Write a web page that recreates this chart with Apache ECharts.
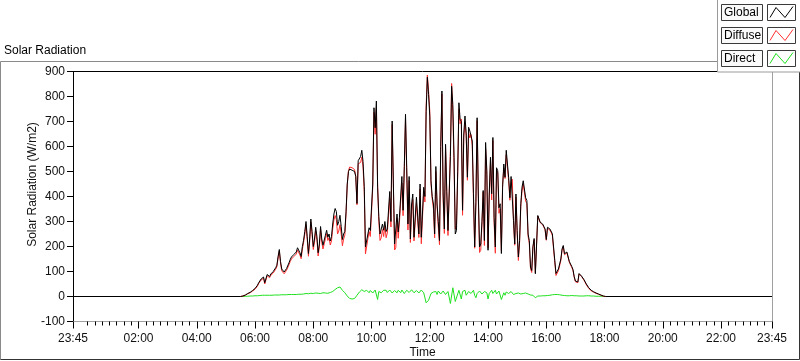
<!DOCTYPE html>
<html>
<head>
<meta charset="utf-8">
<script src="https://cdn.jsdelivr.net/npm/echarts@6/dist/echarts.min.js"></script>
<style>
  html, body { margin: 0; padding: 0; background: #fff; }
  #chart { width: 800px; height: 361px; }
</style>
</head>
<body>
<div id="chart"></div>
<script>
// time axis in minutes from midnight, 23:45 -> 23:45 next day
const axisMin = -15
const axisMax = 1425
const dayStart = 330   // 05:30, first daytime sample
const stepMin = 2.5

const majorTicks = [-15, 120, 240, 360, 480, 600, 720, 840, 960, 1080, 1200, 1320, 1425]
const yTicksMin = -100
const yTicksMax = 900

// W/m2, one value every 2.5 minutes from 05:30 to 18:05, rows of half an hour
const globalRad = [
  0, 1, 2, 4, 6, 9, 12, 14, 17, 20, 24, 28,
  32, 38, 45, 55, 62, 70, 75, 78, 55, 62, 88, 92,
  80, 90, 97, 100, 108, 115, 125, 160, 188, 140, 110, 104,
  98, 105, 112, 120, 135, 148, 158, 150, 168, 172, 178, 195,
  190, 175, 160, 200, 225, 260, 300, 240, 172, 230, 310, 260,
  200, 230, 277, 240, 175, 210, 280, 230, 205, 198, 245, 265,
  237, 250, 222, 240, 290, 330, 352, 340, 285, 300, 325, 280,
  228, 250, 260, 340, 450, 500, 510, 505, 505, 500, 500, 480,
  372, 543, 545, 560, 585, 540, 440, 198, 200, 250, 275, 264,
  260, 450, 755, 675, 782, 437, 320, 250, 250, 290, 265, 300,
  260, 270, 275, 420, 300, 702, 450, 210, 215, 330, 258, 317,
  318, 480, 345, 520, 729, 515, 290, 480, 230, 370, 410, 237,
  237, 397, 400, 250, 450, 237, 237, 437, 400, 740, 877, 808,
  721, 463, 400, 370, 250, 520, 370, 300, 224, 600, 822, 410,
  270, 609, 420, 264, 270, 560, 841, 768, 557, 250, 264, 500,
  775, 709, 700, 345, 650, 722, 650, 477, 677, 662, 660, 622,
  411, 198, 375, 715, 410, 198, 210, 300, 424, 224, 616, 503,
  185, 410, 557, 411, 636, 317, 198, 515, 503, 355, 371, 172,
  437, 530, 477, 585, 583, 475, 395, 480, 484, 304, 210, 410,
  264, 158, 224, 371, 437, 463, 456, 395, 384, 250, 224, 118,
  104, 200, 232, 91, 91, 324, 326, 297, 295, 290, 285, 270,
  228, 277, 275, 270, 262, 251, 250, 145, 92, 98, 110, 130,
  150, 190, 204, 171, 172, 178, 178, 140, 140, 120, 108, 80,
  62, 55, 58, 92, 90, 82, 78, 68, 60, 50, 42, 35,
  30, 25, 22, 19, 16, 14, 12, 10, 8, 6, 4, 2,
  1, 0, 0
]
const diffuseRad = [
  0, 1, 2, 4, 5, 8, 11, 13, 15, 18, 22, 26,
  29, 35, 42, 52, 58, 66, 70, 73, 50, 57, 83, 87,
  75, 85, 92, 94, 102, 109, 119, 154, 182, 134, 103, 97,
  91, 98, 105, 113, 127, 140, 150, 142, 160, 164, 170, 186,
  181, 166, 151, 190, 215, 249, 288, 228, 161, 219, 297, 248,
  188, 217, 263, 226, 162, 198, 268, 217, 190, 182, 231, 252,
  224, 235, 206, 222, 270, 306, 324, 308, 250, 262, 287, 250,
  203, 230, 245, 332, 448, 504, 518, 515, 515, 509, 508, 482,
  367, 531, 527, 536, 558, 518, 420, 170, 175, 232, 260, 240,
  238, 436, 737, 649, 754, 449, 300, 224, 235, 268, 240, 283,
  235, 254, 257, 394, 278, 688, 438, 186, 195, 315, 233, 298,
  303, 454, 323, 508, 711, 490, 266, 464, 216, 343, 388, 222,
  220, 373, 375, 236, 430, 211, 219, 422, 378, 762, 886, 823,
  741, 451, 390, 352, 235, 500, 362, 278, 207, 590, 810, 388,
  252, 601, 415, 244, 250, 588, 852, 733, 522, 270, 284, 490,
  750, 691, 710, 325, 635, 697, 645, 465, 657, 634, 648, 604,
  386, 193, 380, 703, 392, 176, 185, 290, 419, 204, 591, 488,
  195, 398, 537, 386, 624, 297, 173, 505, 495, 333, 351, 184,
  449, 515, 472, 567, 568, 463, 385, 460, 469, 296, 205, 398,
  252, 144, 216, 361, 422, 451, 451, 381, 372, 240, 214, 112,
  96, 195, 227, 96, 96, 322, 326, 295, 293, 287, 282, 267,
  225, 273, 271, 265, 256, 244, 242, 137, 84, 90, 103, 123,
  144, 185, 200, 167, 169, 175, 175, 137, 137, 116, 104, 77,
  59, 52, 55, 90, 88, 80, 76, 66, 58, 47, 39, 32,
  28, 23, 20, 17, 14, 13, 11, 9, 7, 5, 3, 1,
  1, 0, 0
]
const directRad = [
  0, 0, 0, 0, 1, 1, 1, 1, 2, 2, 2, 2,
  3, 3, 3, 3, 4, 4, 5, 5, 5, 5, 5, 5,
  5, 5, 5, 6, 6, 6, 6, 6, 6, 6, 7, 7,
  7, 7, 7, 7, 8, 8, 8, 8, 8, 8, 8, 9,
  9, 9, 9, 10, 10, 11, 12, 12, 11, 11, 13, 12,
  12, 13, 14, 14, 13, 12, 12, 13, 15, 16, 14, 13,
  13, 15, 16, 18, 20, 24, 28, 32, 35, 38, 38, 30,
  25, 20, 15, 8, 2, -4, -8, -10, -10, -9, -8, -2,
  5, 12, 18, 24, 27, 22, 20, 28, 25, 18, 15, 24,
  22, 14, 18, 26, 28, -12, 20, 26, 15, 22, 25, 17,
  25, 16, 18, 26, 22, 14, 12, 24, 20, 15, 25, 19,
  15, 26, 22, 12, 18, 25, 24, 16, 14, 27, 22, 15,
  17, 24, 25, 14, 20, 26, 18, 15, 22, -25, -28, -15,
  -20, 12, 10, 18, 15, 20, 8, 22, 17, 10, 12, 22,
  18, 8, 5, 20, 20, -28, -28, 35, 35, -20, -20, 10,
  25, 18, -10, 20, 15, 25, 5, 12, 20, 28, 12, 18,
  25, 5, -5, 12, 18, 22, 25, 10, 5, 20, 25, 15,
  -10, 12, 20, 25, 12, 20, 25, 10, 8, 22, 20, -12,
  -12, 15, 5, 18, 15, 12, 10, 20, 15, 8, 5, 12,
  12, 14, 8, 10, 15, 12, 5, 14, 12, 10, 10, 6,
  8, 5, 5, -5, -5, 2, 0, 2, 2, 3, 3, 3,
  3, 4, 4, 5, 6, 7, 8, 8, 8, 8, 7, 7,
  6, 5, 4, 4, 3, 3, 3, 3, 3, 4, 4, 3,
  3, 3, 3, 2, 2, 2, 2, 2, 2, 3, 3, 3,
  2, 2, 2, 2, 2, 1, 1, 1, 1, 1, 1, 1,
  0, 0, 0
]

// night is flat zero on both ends
const toPoints = (arr) => [[axisMin, 0]]
  .concat(arr.map((v, i) => [dayStart + i * stepMin, v]))
  .concat([[axisMax, 0]])

const minorTicks = []
for (let m = 0; m < axisMax; m += 15) {
  if (m % 120 !== 0) minorTicks.push(m)
}

const fmtTime = (v) => {
  const m = ((Math.round(v) % 1440) + 1440) % 1440
  const hh = String(Math.floor(m / 60)).padStart(2, '0')
  const mm = String(m % 60).padStart(2, '0')
  return hh + ':' + mm
}

const font = 'Liberation Sans'
const textCol = '#111'

const chart = echarts.init(document.getElementById('chart'))

const legendRows = [
  { name: 'Global', color: '#000000' },
  { name: 'Diffuse', color: '#ff3030' },
  { name: 'Direct', color: '#1ee01e' }
]

const graphics = [
  // outer frame
  { type: 'line', shape: { x1: 0.5, y1: 61.5, x2: 717, y2: 61.5 }, style: { stroke: '#8a8a8a', lineWidth: 1 } },
  { type: 'line', shape: { x1: 0.5, y1: 61.5, x2: 0.5, y2: 359.5 }, style: { stroke: '#8a8a8a', lineWidth: 1 } },
  { type: 'line', shape: { x1: 0.5, y1: 359.5, x2: 799.5, y2: 359.5 }, style: { stroke: '#333', lineWidth: 1 } },
  { type: 'line', shape: { x1: 799.5, y1: 72, x2: 799.5, y2: 359.5 }, style: { stroke: '#333', lineWidth: 1 } },
  { type: 'text', left: 4, top: 45, style: { text: 'Solar Radiation', font: '12px ' + font, fill: '#000' } },
  // legend panel
  { type: 'rect', shape: { x: 717.5, y: -1, width: 83, height: 73 }, style: { fill: '#fff', stroke: '#9a9a9a', lineWidth: 1 }, z: 100 }
]
legendRows.forEach((r, i) => {
  const y = 4.5 + i * 23
  graphics.push(
    { type: 'rect', shape: { x: 721.5, y: y, width: 41, height: 16 }, style: { fill: '#fafafa', stroke: '#3a3a3a', lineWidth: 1 }, z: 101 },
    { type: 'text', x: 724, y: y + 8.5, style: { text: r.name, font: '12px ' + font, fill: '#000', verticalAlign: 'middle' }, z: 102 },
    { type: 'rect', shape: { x: 767.5, y: y, width: 28, height: 16 }, style: { fill: '#fff', stroke: '#3a3a3a', lineWidth: 1 }, z: 101 },
    { type: 'polyline', shape: { points: [[770, y + 13], [776, y + 3], [785, y + 13], [793, y + 2]] }, style: { stroke: r.color, lineWidth: 1, fill: null }, z: 102 }
  )
})

const lineSeries = (name, data, color) => ({
  name: name,
  type: 'line',
  data: toPoints(data),
  symbol: 'none',
  lineStyle: { color: color, width: 1 },
  itemStyle: { color: color },
  animation: false,
  silent: true
})

chart.setOption({
  animation: false,
  textStyle: { fontFamily: font },
  grid: { left: 73, right: 28, top: 71.5, height: 250, outerBoundsMode: 'none', containLabel: false },
  xAxis: [
    {
      type: 'value', min: axisMin, max: axisMax, position: 'bottom', offset: 0,
      name: 'Time', nameLocation: 'middle', nameGap: 25, nameMoveOverlap: false,
      nameTextStyle: { color: textCol, fontSize: 12, fontFamily: font },
      axisLine: { show: true, onZero: false, lineStyle: { color: '#a0a0a0', width: 1 } },
      axisTick: { show: true, customValues: majorTicks, length: 7, lineStyle: { color: '#000' } },
      axisLabel: { customValues: majorTicks, formatter: fmtTime, color: textCol, fontSize: 12, margin: 11, fontFamily: font },
      splitLine: { show: false }
    },
    {
      type: 'value', min: axisMin, max: axisMax, position: 'bottom', offset: 0,
      axisLine: { show: false, onZero: false },
      axisTick: { show: true, customValues: minorTicks, length: 4, lineStyle: { color: '#000' } },
      axisLabel: { show: true, customValues: minorTicks, formatter: () => '' },
      splitLine: { show: false }
    },
    {
      type: 'value', min: axisMin, max: axisMax, position: 'top', offset: 0,
      axisLine: { show: true, onZero: false, lineStyle: { color: '#000', width: 1 } },
      axisTick: { show: false },
      axisLabel: { show: false },
      splitLine: { show: false }
    }
  ],
  yAxis: [
    {
      type: 'value', min: yTicksMin, max: yTicksMax, interval: 100, position: 'left',
      name: 'Solar Radiation (W/m2)', nameLocation: 'middle', nameGap: 34, nameRotate: 90, nameMoveOverlap: false,
      nameTextStyle: { color: textCol, fontSize: 12, fontFamily: font, padding: [0, 0, 0, 24] },
      axisLine: { show: true, onZero: false, lineStyle: { color: '#000', width: 1 } },
      axisTick: { show: true, length: 6, lineStyle: { color: '#000' } },
      axisLabel: { color: textCol, fontSize: 12, margin: 8, fontFamily: font },
      splitLine: { show: false }
    },
    {
      type: 'value', min: yTicksMin, max: yTicksMax, position: 'right',
      axisLine: { show: true, onZero: false, lineStyle: { color: '#a0a0a0', width: 1 } },
      axisTick: { show: false },
      axisLabel: { show: false },
      splitLine: { show: false }
    }
  ],
  series: [
    lineSeries('Direct', directRad, '#1ee01e'),
    lineSeries('Diffuse', diffuseRad, '#ff3030'),
    lineSeries('Global', globalRad, '#000000')
  ],
  graphic: graphics
})
</script>
</body>
</html>
